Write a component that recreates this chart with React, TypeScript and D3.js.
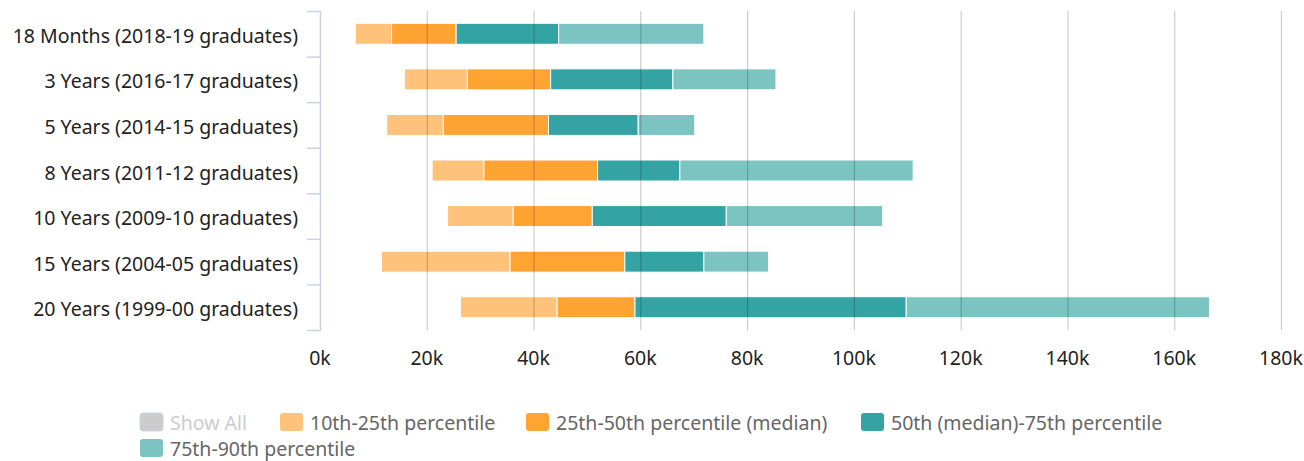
import { useEffect, useRef } from 'react'
import * as d3 from 'd3'

const WIDTH = 1304
const HEIGHT = 461
const FONT = '"Noto Sans", sans-serif'
const FS = '19.5px'

// cohorts, top to bottom
const cohorts = [
    '18 Months (2018-19 graduates)',
    '3 Years (2016-17 graduates)',
    '5 Years (2014-15 graduates)',
    '8 Years (2011-12 graduates)',
    '10 Years (2009-10 graduates)',
    '15 Years (2004-05 graduates)',
    '20 Years (1999-00 graduates)',
]
// earnings in thousands
const p10 = [6.6, 15.8, 12.5, 21.0, 23.9, 11.5, 26.3]
const p25 = [13.4, 27.6, 23.1, 30.7, 36.2, 35.6, 44.4]
const p50 = [25.5, 43.2, 42.8, 52.0, 51.0, 57.1, 59.0]
const p75 = [44.7, 66.1, 59.6, 67.4, 76.1, 71.9, 109.8]
const p90 = [71.9, 85.4, 70.2, 111.1, 105.4, 84.0, 166.6]

const seriesNames = [
    '10th-25th percentile',
    '25th-50th percentile (median)',
    '50th (median)-75th percentile',
    '75th-90th percentile',
]
const seriesColors = ['#ffc27a', '#ffa333', '#33a3a3', '#7cc4c2']
const xTicks = [0, 20, 40, 60, 80, 100, 120, 140, 160, 180]

export default function App(){
    const svgRef = useRef<SVGSVGElement|null>(null)

    useEffect(()=>{
        const svg = d3.select(svgRef.current)
        svg.selectAll('*').remove()

        const x = d3.scaleLinear().domain([0, 180]).range([320, 1281])
        const y = d3.scaleBand().domain(cohorts).range([11, 330]).paddingInner(0.54).paddingOuter(0.27)
        const band = d3.scaleBand().domain(cohorts).range([11, 330])

        // segments [from, to] per series
        const bounds = [p10, p25, p50, p75, p90]
        const segs:any[] = []
        for(let s=0; s<4; s++){
            for(let i=0; i<cohorts.length; i++){
                segs.push({cat: cohorts[i], s, from: bounds[s][i], to: bounds[s+1][i]})
            }
        }

        svg.append('g')
            .selectAll('rect')
            .data(segs)
            .enter()
            .append('rect')
            .attr('x', (d:any) => x(d.from))
            .attr('width', (d:any) => x(d.to) - x(d.from))
            .attr('y', (d:any) => y(d.cat) as number)
            .attr('height', y.bandwidth())
            .attr('fill', (d:any) => seriesColors[d.s])
            .attr('stroke', '#fff')
            .attr('stroke-width', 1)

        // grid on top of the bars
        svg.append('g')
            .selectAll('line')
            .data(xTicks.slice(1))
            .enter()
            .append('line')
            .attr('x1', (d:any) => x(d) + 0.5)
            .attr('x2', (d:any) => x(d) + 0.5)
            .attr('y1', 11)
            .attr('y2', 330)
            .attr('stroke', 'rgba(0,0,0,0.2)')
            .attr('stroke-width', 1.2)

        // y axis line + ticks
        const yAxis = svg.append('g')
        yAxis.append('line')
            .attr('x1', 320.5).attr('x2', 320.5).attr('y1', 11).attr('y2', 331)
            .attr('stroke', '#c6d3e3').attr('stroke-width', 1.5)
        const tickYs = cohorts.map(c => band(c) as number).concat([330])
        yAxis.selectAll('.tick')
            .data(tickYs)
            .enter()
            .append('line')
            .attr('x1', 307).attr('x2', 320)
            .attr('y1', (d:any) => d + 0.5).attr('y2', (d:any) => d + 0.5)
            .attr('stroke', '#c6d3e3').attr('stroke-width', 1.5)
        yAxis.selectAll('text')
            .data(cohorts)
            .enter()
            .append('text')
            .attr('x', 298)
            .attr('y', (d:any) => (band(d) as number) + band.bandwidth() / 2 + 9)
            .attr('text-anchor', 'end')
            .attr('font-family', FONT)
            .attr('font-size', FS)
            .attr('fill', '#222')
            .text((d:any) => d)

        // x labels
        svg.append('g')
            .selectAll('text')
            .data(xTicks)
            .enter()
            .append('text')
            .attr('x', (d:any) => x(d))
            .attr('y', 365)
            .attr('text-anchor', 'middle')
            .attr('font-family', FONT)
            .attr('font-size', FS)
            .attr('fill', '#222')
            .text((d:any) => d + 'k')

        // legend
        const legendItems = [
            {name: 'Show All', color: '#cccccc', text: '#cccccc', x: 140, y: 413},
            {name: seriesNames[0], color: seriesColors[0], text: '#666', x: 280, y: 413},
            {name: seriesNames[1], color: seriesColors[1], text: '#666', x: 526, y: 413},
            {name: seriesNames[2], color: seriesColors[2], text: '#666', x: 861, y: 413},
            {name: seriesNames[3], color: seriesColors[3], text: '#666', x: 140, y: 439},
        ]
        const lg = svg.append('g')
            .selectAll('g')
            .data(legendItems)
            .enter()
            .append('g')
            .attr('transform', (d:any) => `translate(${d.x},${d.y})`)
        lg.append('rect')
            .attr('width', 23).attr('height', 18).attr('rx', 3)
            .attr('fill', (d:any) => d.color)
            .attr('stroke', (d:any) => d.name === 'Show All' ? '#c6d3e3' : 'none')
        lg.append('text')
            .attr('x', 30).attr('y', 16.5)
            .attr('font-family', FONT)
            .attr('font-size', FS)
            .attr('fill', (d:any) => d.text)
            .text((d:any) => d.name)
    }, [])

    return <svg ref={svgRef} width={WIDTH} height={HEIGHT} style={{position: 'absolute', left: 0, top: 0}}></svg>
}
